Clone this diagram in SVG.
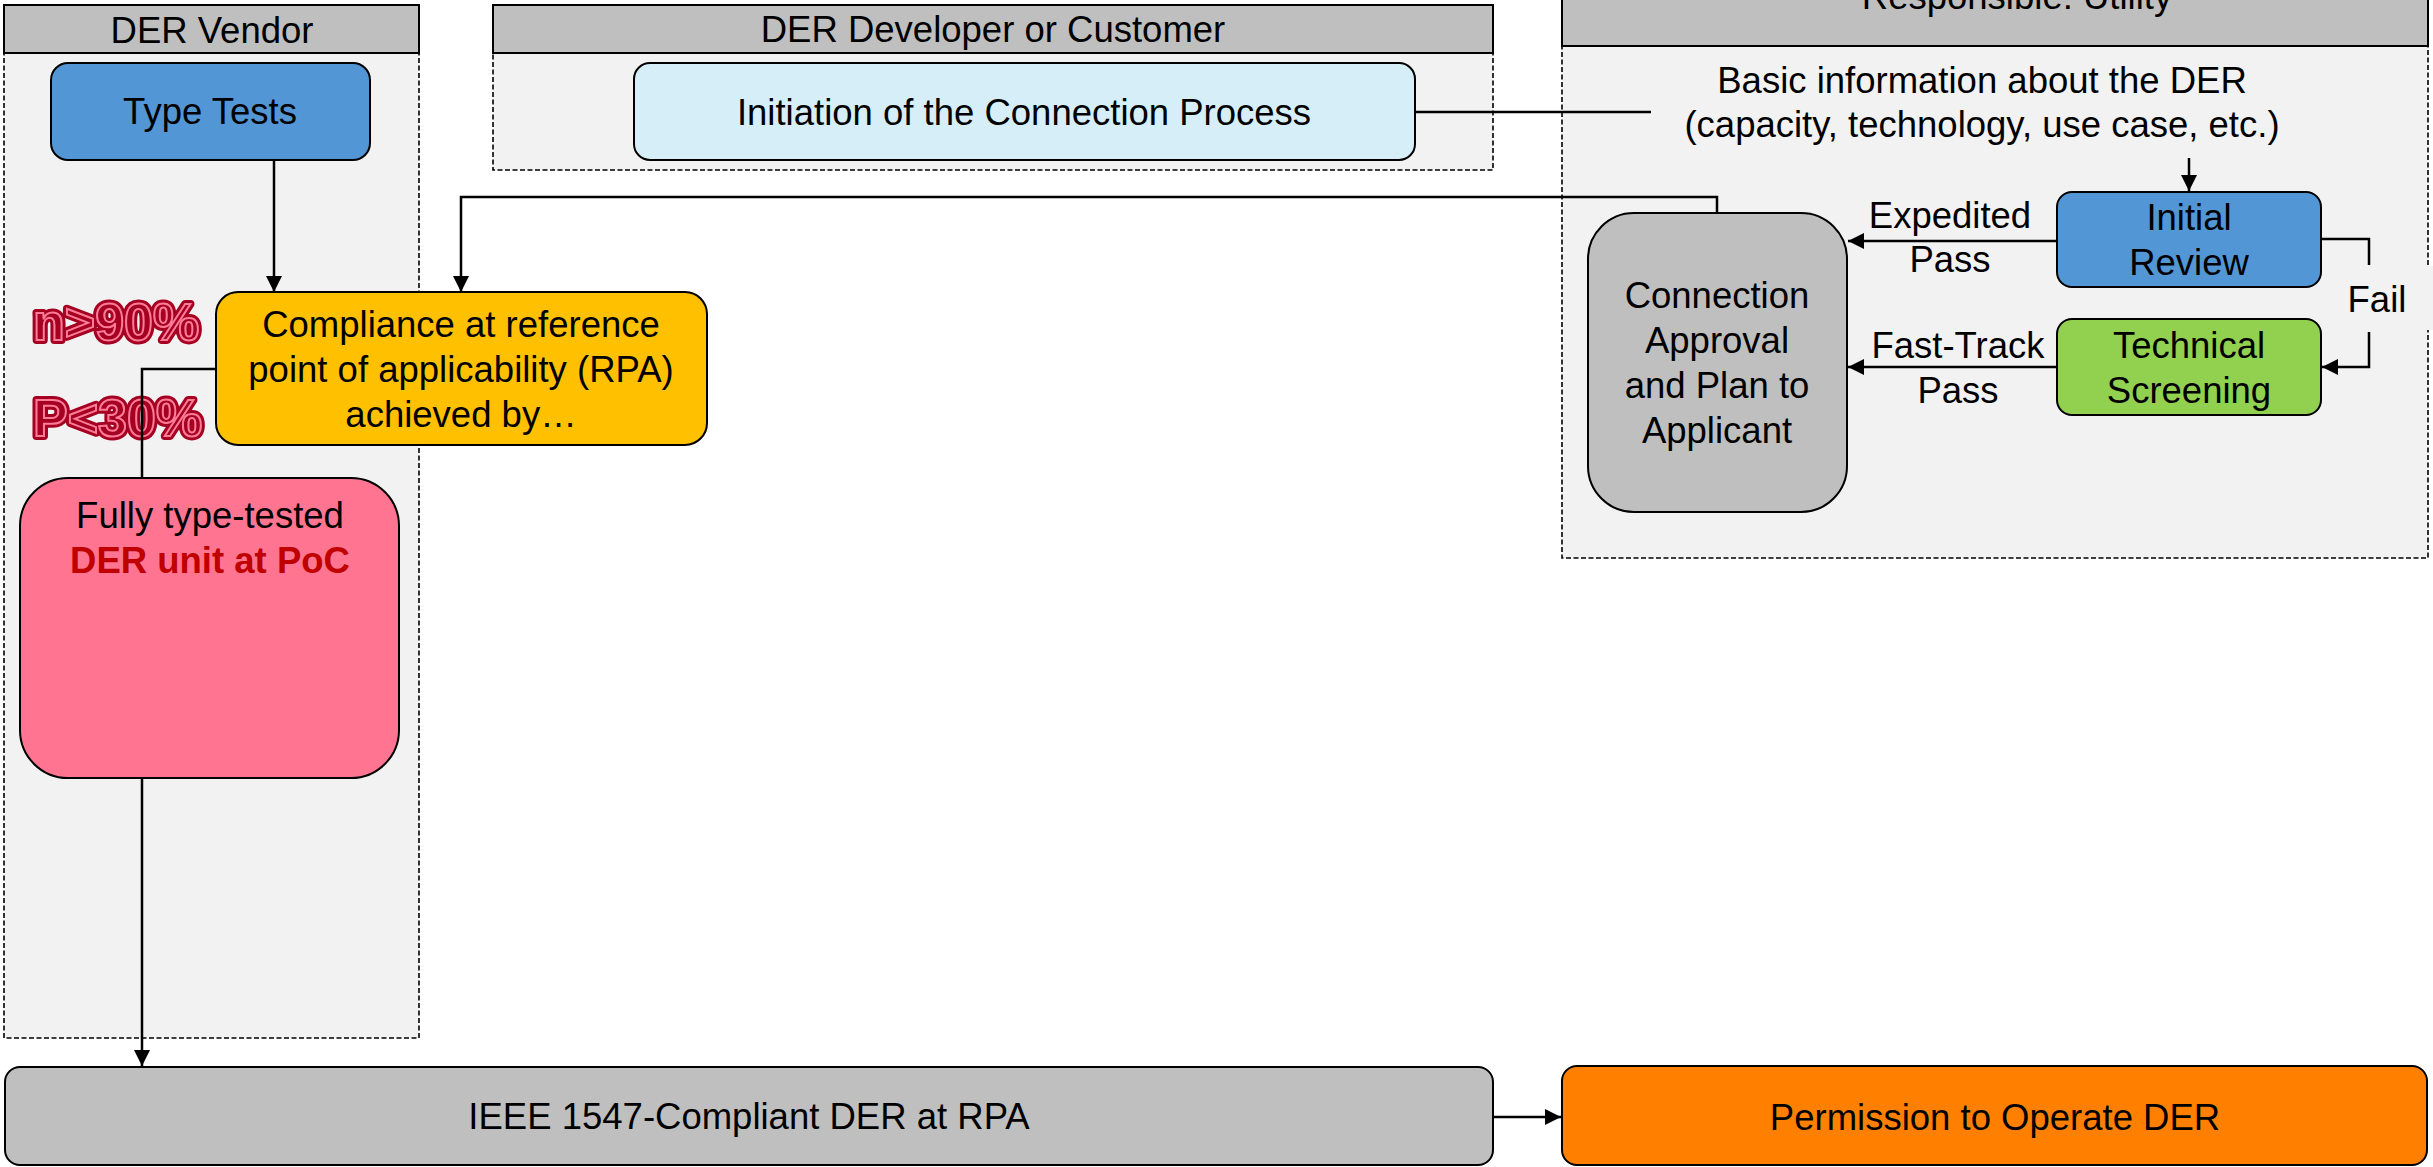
<svg xmlns="http://www.w3.org/2000/svg" width="2433" height="1167" viewBox="0 0 2433 1167">
<style>
text{font-family:"Liberation Sans",Arial,sans-serif;font-size:36.5px;fill:#000;text-anchor:middle}
.hdr{fill:#BFBFBF;stroke:#000;stroke-width:2}
.body{fill:#F2F2F2;stroke:#000;stroke-width:1.6;stroke-dasharray:5 2.5}
.box{stroke:#000;stroke-width:2}
.con{fill:none;stroke:#000;stroke-width:2.5}
.big{font-weight:bold;font-size:52px;text-anchor:start}
.big1{fill:#A50021;stroke:#A50021;stroke-width:8;stroke-linejoin:round}
.big2{fill:#A50021;stroke:#FF7C99;stroke-width:2}
</style>
<defs>
<marker id="ah" markerUnits="userSpaceOnUse" markerWidth="18" markerHeight="16" refX="16" refY="8" orient="auto">
<path d="M0,0 L16,8 L0,16 Z" fill="#000"/>
</marker>
</defs>
<rect width="2433" height="1167" fill="#fff"/>
<g id="lane-vendor">
<rect class="body" x="4" y="53" width="415" height="985"/>
<rect class="hdr" x="4" y="5" width="415" height="48"/>
<text x="212" y="43">DER Vendor</text>
</g>
<g id="lane-developer">
<rect class="body" x="493" y="53" width="1000" height="117"/>
<rect class="hdr" x="493" y="5" width="1000" height="48"/>
<text x="993" y="42">DER Developer or Customer</text>
</g>
<g id="lane-utility">
<rect class="body" x="1562" y="46" width="866" height="512"/>
<rect class="hdr" x="1562" y="-50" width="866" height="96"/>
<text x="2017" y="9">Responsible: Utility</text>
</g>
<g id="type-tests">
<rect class="box" x="51" y="63" width="319" height="97" rx="17" fill="#5296D5"/>
<text x="210" y="124">Type Tests</text>
</g>
<g id="initiation">
<rect class="box" x="634" y="63" width="781" height="97" rx="16" fill="#D6EEF8"/>
<text x="1024" y="125">Initiation of the Connection Process</text>
</g>
<g id="basic-info">
<text x="1982" y="93">Basic information about the DER</text>
<text x="1982" y="137">(capacity, technology, use case, etc.)</text>
</g>
<g id="initial-review">
<rect class="box" x="2057" y="192" width="264" height="95" rx="15" fill="#5296D5"/>
<text x="2189" y="230">Initial</text>
<text x="2189" y="275">Review</text>
</g>
<g id="technical-screening">
<rect class="box" x="2057" y="319" width="264" height="96" rx="15" fill="#92D050"/>
<text x="2189" y="358">Technical</text>
<text x="2189" y="403">Screening</text>
</g>
<g id="connection-approval">
<rect class="box" x="1588" y="213" width="259" height="299" rx="46" fill="#BFBFBF"/>
<text x="1717" y="308">Connection</text>
<text x="1717" y="353">Approval</text>
<text x="1717" y="398">and Plan to</text>
<text x="1717" y="443">Applicant</text>
</g>
<g id="compliance">
<rect class="box" x="216" y="292" width="491" height="153" rx="22" fill="#FFC000"/>
<text x="461" y="337">Compliance at reference</text>
<text x="461" y="382">point of applicability (RPA)</text>
<text x="461" y="427">achieved by…</text>
</g>
<g id="stats">
<text class="big big1" x="33" y="340">n&gt;90%</text>
<text class="big big2" x="33" y="340">n&gt;90%</text>
<text class="big big1" x="33" y="436">P&lt;30%</text>
<text class="big big2" x="33" y="436">P&lt;30%</text>
</g>
<g id="fully-type-tested">
<rect class="box" x="20" y="478" width="379" height="300" rx="48" fill="#FF7591"/>
<text x="210" y="528">Fully type-tested</text>
<text x="210" y="573" font-weight="bold" style="fill:#C00000">DER unit at PoC</text>
</g>
<g id="ieee">
<rect class="box" x="5" y="1067" width="1488" height="98" rx="15" fill="#BFBFBF"/>
<text x="749" y="1129">IEEE 1547-Compliant DER at RPA</text>
</g>
<g id="permission">
<rect class="box" x="1562" y="1066" width="865" height="99" rx="15" fill="#FF8000"/>
<text x="1995" y="1130">Permission to Operate DER</text>
</g>
<g id="labels">
<text x="1950" y="228">Expedited</text>
<text x="1950" y="272">Pass</text>
<text x="1958" y="358">Fast-Track</text>
<text x="1958" y="403">Pass</text>
<rect x="2340" y="266" width="93" height="64" fill="#F2F2F2"/>
<text x="2377" y="312">Fail</text>
</g>
<g id="connectors">
<path class="con" d="M274,160 V292" marker-end="url(#ah)"/>
<path class="con" d="M1415,112 H1651"/>
<path class="con" d="M2189,158 V191" marker-end="url(#ah)"/>
<path class="con" d="M2057,241 H1848" marker-end="url(#ah)"/>
<path class="con" d="M2057,367 H1848" marker-end="url(#ah)"/>
<path class="con" d="M2321,239 H2369 V265"/>
<path class="con" d="M2369,332 V367 H2322" marker-end="url(#ah)"/>
<path class="con" d="M1717,213 V197 H461 V292" marker-end="url(#ah)"/>
<path class="con" d="M216,369 H142 V478"/>
<path class="con" d="M142,778 V1066" marker-end="url(#ah)"/>
<path class="con" d="M1493,1117 H1561" marker-end="url(#ah)"/>
</g>
</svg>
